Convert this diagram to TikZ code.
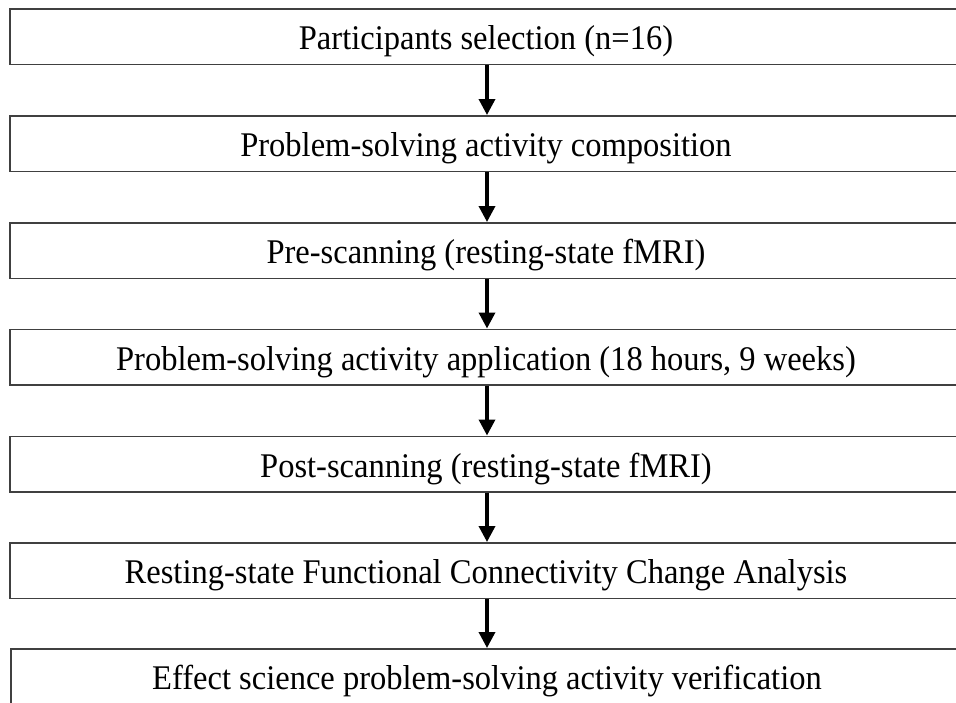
\documentclass[tikz,border=0pt]{standalone}
\usepackage{fontspec}
\setmainfont{Liberation Serif}
\newfontfamily\boxfont[FakeStretch=0.94]{Liberation Serif}
\usetikzlibrary{arrows.meta}
\begin{document}
\begin{tikzpicture}[x=1pt,y=-1pt,
  stepbox/.style={draw=black!75, line width=1.5pt, minimum width=952pt, minimum height=55.5pt, inner sep=0pt, text height=41pt, text depth=14.5pt, font=\boxfont\fontsize{34.6}{40}\selectfont, anchor=north},
  flow/.style={line width=3.5pt, -{Triangle[width=16pt,length=16pt]}}]
\useasboundingbox (0,0) rectangle (956,702);
\clip (0,0) rectangle (956,702);
\node[stepbox] (b1) at (486,8) {Participants selection (n=16)};
\node[stepbox] (b2) at (486,115) {Problem-solving activity composition};
\node[stepbox] (b3) at (486,222) {Pre-scanning (resting-state fMRI)};
\node[stepbox] (b4) at (486,328.5) {Problem-solving activity application (18 hours, 9 weeks)};
\node[stepbox] (b5) at (486,435.5) {Post-scanning (resting-state fMRI)};
\node[stepbox] (b6) at (486,542) {Resting-state Functional Connectivity Change Analysis};
\node[stepbox] (b7) at (487,648) {Effect science problem-solving activity verification};
\foreach \a/\b in {b1/b2,b2/b3,b3/b4,b4/b5,b5/b6,b6/b7}
  \draw[flow] (\a.south -| 487,0) -- (\b.north -| 487,0);
\end{tikzpicture}
\end{document}
